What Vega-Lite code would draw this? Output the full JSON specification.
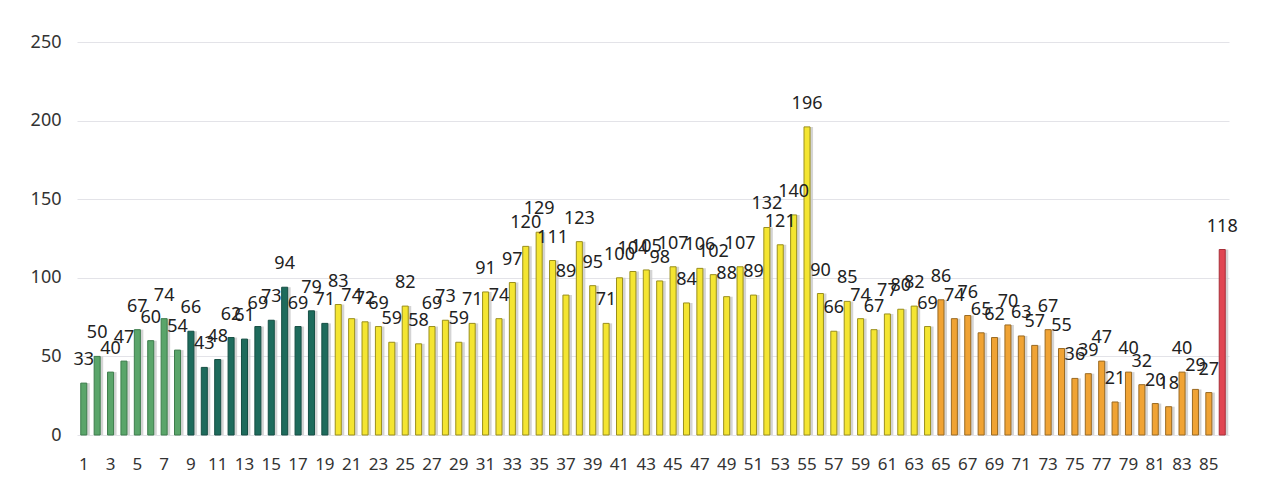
{
  "$schema": "https://vega.github.io/schema/vega-lite/v6.json",
  "autosize": "none",
  "width": 1152,
  "height": 393,
  "padding": {"left": 77, "top": 42, "right": 32, "bottom": 55},
  "background": "white",
  "data": {"values": [
    {"n":1,"v":33,"g":"a"},{"n":2,"v":50,"g":"a"},{"n":3,"v":40,"g":"a"},{"n":4,"v":47,"g":"a"},{"n":5,"v":67,"g":"a"},{"n":6,"v":60,"g":"a"},{"n":7,"v":74,"g":"a"},{"n":8,"v":54,"g":"a"},
    {"n":9,"v":66,"g":"b"},{"n":10,"v":43,"g":"b"},{"n":11,"v":48,"g":"b"},{"n":12,"v":62,"g":"b"},{"n":13,"v":61,"g":"b"},{"n":14,"v":69,"g":"b"},{"n":15,"v":73,"g":"b"},{"n":16,"v":94,"g":"b"},{"n":17,"v":69,"g":"b"},{"n":18,"v":79,"g":"b"},{"n":19,"v":71,"g":"b"},
    {"n":20,"v":83,"g":"c"},{"n":21,"v":74,"g":"c"},{"n":22,"v":72,"g":"c"},{"n":23,"v":69,"g":"c"},{"n":24,"v":59,"g":"c"},{"n":25,"v":82,"g":"c"},{"n":26,"v":58,"g":"c"},{"n":27,"v":69,"g":"c"},{"n":28,"v":73,"g":"c"},{"n":29,"v":59,"g":"c"},{"n":30,"v":71,"g":"c"},
    {"n":31,"v":91,"g":"c"},{"n":32,"v":74,"g":"c"},{"n":33,"v":97,"g":"c"},{"n":34,"v":120,"g":"c"},{"n":35,"v":129,"g":"c"},{"n":36,"v":111,"g":"c"},{"n":37,"v":89,"g":"c"},{"n":38,"v":123,"g":"c"},{"n":39,"v":95,"g":"c"},{"n":40,"v":71,"g":"c"},
    {"n":41,"v":100,"g":"c"},{"n":42,"v":104,"g":"c"},{"n":43,"v":105,"g":"c"},{"n":44,"v":98,"g":"c"},{"n":45,"v":107,"g":"c"},{"n":46,"v":84,"g":"c"},{"n":47,"v":106,"g":"c"},{"n":48,"v":102,"g":"c"},{"n":49,"v":88,"g":"c"},{"n":50,"v":107,"g":"c"},
    {"n":51,"v":89,"g":"c"},{"n":52,"v":132,"g":"c"},{"n":53,"v":121,"g":"c"},{"n":54,"v":140,"g":"c"},{"n":55,"v":196,"g":"c"},{"n":56,"v":90,"g":"c"},{"n":57,"v":66,"g":"c"},{"n":58,"v":85,"g":"c"},{"n":59,"v":74,"g":"c"},{"n":60,"v":67,"g":"c"},
    {"n":61,"v":77,"g":"c"},{"n":62,"v":80,"g":"c"},{"n":63,"v":82,"g":"c"},{"n":64,"v":69,"g":"c"},
    {"n":65,"v":86,"g":"d"},{"n":66,"v":74,"g":"d"},{"n":67,"v":76,"g":"d"},{"n":68,"v":65,"g":"d"},{"n":69,"v":62,"g":"d"},{"n":70,"v":70,"g":"d"},
    {"n":71,"v":63,"g":"d"},{"n":72,"v":57,"g":"d"},{"n":73,"v":67,"g":"d"},{"n":74,"v":55,"g":"d"},{"n":75,"v":36,"g":"d"},{"n":76,"v":39,"g":"d"},{"n":77,"v":47,"g":"d"},{"n":78,"v":21,"g":"d"},{"n":79,"v":40,"g":"d"},{"n":80,"v":32,"g":"d"},
    {"n":81,"v":20,"g":"d"},{"n":82,"v":18,"g":"d"},{"n":83,"v":40,"g":"d"},{"n":84,"v":29,"g":"d"},{"n":85,"v":27,"g":"d"},
    {"n":86,"v":118,"g":"e"}
  ]},
  "encoding": {
    "x": {"field": "n", "type": "ordinal", "sort": null,
      "scale": {"paddingInner": 0.55, "paddingOuter": 0.28},
      "axis": {"title": null, "labelAngle": 0, "ticks": false, "domain": false,
        "values": [1,3,5,7,9,11,13,15,17,19,21,23,25,27,29,31,33,35,37,39,41,43,45,47,49,51,53,55,57,59,61,63,65,67,69,71,73,75,77,79,81,83,85],
        "labelFont": "Noto Sans", "labelFontSize": 17, "labelColor": "#333333", "labelPadding": 21}},
    "y": {"field": "v", "type": "quantitative",
      "scale": {"domain": [0, 250]},
      "axis": {"title": null, "values": [0,50,100,150,200,250], "ticks": false, "domain": false,
        "gridColor": "#e3e3e8", "labelFont": "Noto Sans", "labelFontSize": 18, "labelColor": "#333333", "labelPadding": 16}}
  },
  "layer": [
    {"mark": {"type": "bar", "xOffset": 3, "color": "#c9c9c9", "opacity": 0.8}},
    {"mark": {"type": "bar", "strokeWidth": 1},
      "encoding": {
        "color": {"field": "g", "type": "nominal", "legend": null,
          "scale": {"domain": ["a","b","c","d","e"], "range": ["#5aa56a","#1e6b5c","#f4e531","#f0a334","#e04652"]}},
        "stroke": {"field": "g", "type": "nominal", "legend": null,
          "scale": {"domain": ["a","b","c","d","e"], "range": ["#3d7d4c","#164f44","#9a8f1c","#9a6a22","#a8303a"]}}
      }},
    {"mark": {"type": "text", "dy": -23, "font": "Noto Sans", "fontSize": 18, "color": "#222222"},
      "encoding": {"text": {"field": "v", "type": "quantitative"}}}
  ],
  "config": {"view": {"stroke": null}}
}
